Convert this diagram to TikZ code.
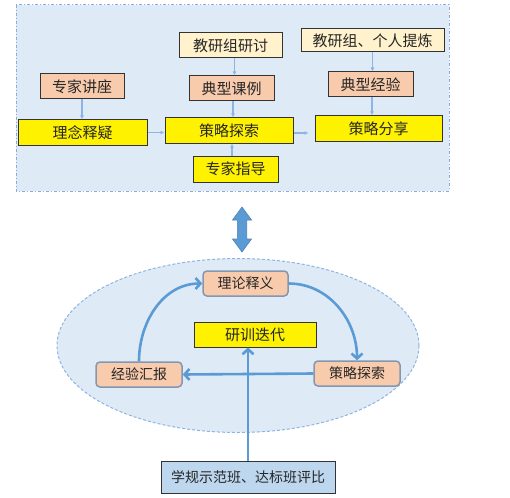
\documentclass[tikz,border=0pt]{standalone}
\usepackage{fontspec}
\newfontfamily\cjk{Noto Sans CJK SC}
\usepackage{tikz}
\usetikzlibrary{shapes,shapes.geometric,arrows.meta,positioning,calc}
\definecolor{panelblue}{HTML}{DEEAF6}
\definecolor{panelline}{HTML}{8EAADB}
\definecolor{peach}{HTML}{F8CBAD}
\definecolor{cream}{HTML}{FFF2CC}
\definecolor{flowblue}{HTML}{5B9BD5}
\definecolor{thinblue}{HTML}{8DB4E2}
\definecolor{roundline}{HTML}{8497B0}
\definecolor{paleblue}{HTML}{BDD7EE}
\tikzset{
  % top panel boxes
  tbox/.style={draw=black!80, rectangle, line width=1pt, minimum height=25pt,
               align=center, inner sep=0pt, text=black!85,
               font=\cjk\fontsize{15}{18}\selectfont},
  tbox-cream/.style={tbox, fill=cream},
  tbox-peach/.style={tbox, fill=peach},
  tbox-yellow/.style={tbox, fill=yellow},
  % cycle boxes
  rbox/.style={draw=roundline, fill=peach, rectangle, rounded corners=4pt,
               line width=1.5pt, minimum height=25pt, minimum width=86pt,
               inner sep=0pt, text=black!85, font=\cjk\fontsize{14}{17}\selectfont},
  % arrows
  thinarr/.style={-{Latex[length=4pt,width=4pt]}, draw=thinblue, line width=1.2pt},
  cyclearr/.style={-{Straight Barb[length=5pt,width=11pt]}, draw=flowblue, line width=2.6pt}
}
\begin{document}
\begin{tikzpicture}[x=1pt,y=-1pt]
\useasboundingbox (0,0) rectangle (510,497);

% top panel
\draw[panelline, fill=panelblue, line width=1pt, dash dot] (16,5) rectangle (449,191);

\node[tbox-peach, minimum width=84pt] (lecture) at (82,86.5) {专家讲座};
\node[tbox-yellow, minimum width=129pt] (concept) at (82.5,132.5) {理念释疑};
\node[tbox-cream, minimum width=103pt] (groupdisc) at (230.5,45.5) {教研组研讨};
\node[tbox-peach, minimum width=85pt] (lesson) at (231.5,88.5) {典型课例};
\node[tbox-yellow, minimum width=128pt] (explore) at (229,130.5) {策略探索};
\node[tbox-yellow, minimum width=85pt, minimum height=26pt] (guide) at (235.5,169) {专家指导};
\node[tbox-cream, minimum width=143pt, minimum height=23pt] (refine) at (372.5,40.5) {教研组、个人提炼};
\node[tbox-peach, minimum width=85pt] (exper) at (370.5,84.5) {典型经验};
\node[tbox-yellow, minimum width=127pt] (share) at (378.5,128.5) {策略分享};

\draw[thinarr] (lecture.south) -- (lecture.south |- concept.north);
\draw[thinarr] (concept.east) -- (concept.east -| explore.west);
\draw[thinarr] ([xshift=4pt]groupdisc.south) -- ([xshift=4pt]groupdisc.south |- lesson.north);
\draw[thinarr] ([xshift=1.5pt]lesson.south) -- ([xshift=1.5pt]lesson.south |- explore.north);
\draw[thinarr] ([xshift=-3.5pt]guide.north) -- ([xshift=-3.5pt]guide.north |- explore.south);
\draw[thinarr, shorten >=6pt] ([yshift=-2.5pt]explore.east) -- ([yshift=-2.5pt]explore.east -| share.west);
\draw[thinarr] (refine.south) -- (refine.south |- exper.north);
\draw[thinarr] ([xshift=1.5pt]exper.south) -- ([xshift=1.5pt]exper.south |- share.north);

% link between panel and cycle
\filldraw[fill=flowblue, draw=flowblue!85!black, line width=0.6pt]
  (242,207) -- (251.5,220) -- (246.7,220) -- (246.7,239) -- (251.5,239) -- (242,252)
  -- (232.5,239) -- (237.3,239) -- (237.3,220) -- (232.5,220) -- cycle;

% cycle
\draw[draw=thinblue, fill=panelblue, line width=1pt, dash pattern=on 3pt off 2pt]
  (238,345.5) ellipse [x radius=181pt, y radius=87pt];

\node[rbox, minimum width=85pt] (theory) at (245.5,283.5) {理论释义};
\node[tbox-yellow, minimum width=122pt] (iterate) at (255,334.5) {研训迭代};
\node[rbox] (report) at (139,374.5) {经验汇报};
\node[rbox] (strat) at (357,373.5) {策略探索};
\node[tbox, fill=paleblue, minimum width=174pt, minimum height=32pt,
      font=\cjk\fontsize{14}{17}\selectfont] (compare) at (248,477) {学规示范班、达标班评比};

\draw[cyclearr] (report.north) to[out=90, in=180] (theory.west);
\draw[cyclearr] (theory.east) to[out=0, in=90] (strat.north);
\draw[cyclearr] (strat.west) -- (report.east);
\draw[cyclearr] (compare.north) -- (compare.north |- iterate.south);

\end{tikzpicture}
\end{document}
